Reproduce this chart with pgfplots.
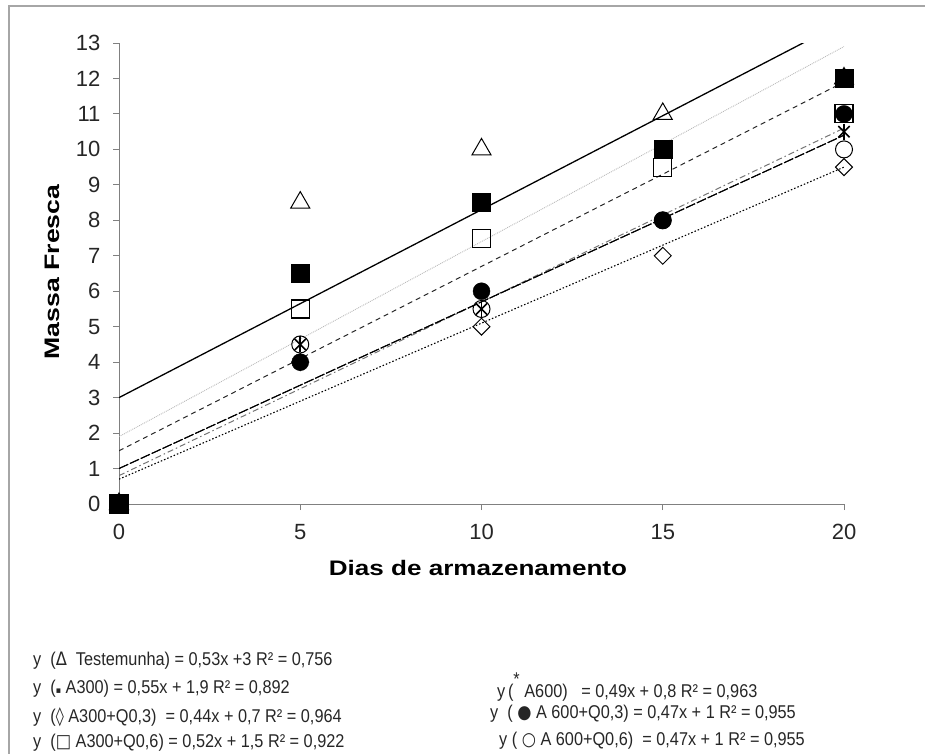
\documentclass[border=0pt]{standalone}
\usepackage{fontspec}
\setmainfont{Liberation Sans}
\newfontfamily\symf{DejaVu Sans}
\usepackage{pgfplots}
\pgfplotsset{compat=1.18}
\begin{document}
\begin{tikzpicture}[x=1pt,y=1pt]
\useasboundingbox (-119,-249) rectangle (806,504);
\draw[gray!70, line width=1.6pt] (-110,-260) -- (-110,498) -- (820,498);
\begin{axis}[at={(0,0)}, anchor=origin,
  x=36.25pt, y=35.46pt,
  xmin=0, xmax=20, ymin=0, ymax=13,
  axis x line=bottom, axis y line=left,
  axis line style={-, gray, line width=0.9pt},
  tick style={gray, line width=0.9pt},
  tick align=outside, major tick length=6pt,
  xtick={0,5,10,15,20}, ytick={0,1,...,13},
  ticklabel style={font=\fontsize{22}{25}\selectfont, text=black!85},
  xticklabel style={yshift=-11pt},
  yticklabel style={xshift=-9pt},
  /pgf/number format/assume math mode=true,
  clip mode=individual,
]
% trendlines
\addplot[black, line width=1.3pt] coordinates {(0,3) (20,13.6)};
\addplot[gray!55, line width=0.9pt, densely dotted] coordinates {(0,1.9) (20,12.9)};
\addplot[black!85, line width=1pt, dash pattern=on 5pt off 4pt] coordinates {(0,1.5) (20,11.9)};
\addplot[gray!90!black, line width=1pt, dash pattern=on 6pt off 3pt on 1.5pt off 3pt] coordinates {(0,0.8) (20,10.6)};
\addplot[black, line width=1pt, dash pattern=on 10pt off 2pt] coordinates {(0,1) (20,10.4)};
\addplot[black, line width=1pt, dash pattern=on 10pt off 2pt] coordinates {(0,1) (20,10.4)};
\addplot[black, line width=1.1pt, dash pattern=on 1.5pt off 2pt] coordinates {(0,0.7) (20,9.5)};
% data points
\addplot[only marks, mark=triangle, mark size=11pt, mark options={black, line width=1pt}] coordinates {(0,0) (5,8.5) (10,10) (15,11) (20,12)};
\addplot[only marks, mark=square, mark size=6pt, mark options={black, line width=1pt, rotate=45}] coordinates {(0,0) (5,4) (10,5) (15,7) (20,9.5)};
\addplot[only marks, mark=o, mark size=8.5pt, mark options={black, line width=1pt}] coordinates {(0,0) (5,4.5) (10,5.5) (15,8) (20,10)};
\addplot[only marks, mark=square, mark size=9pt, mark options={black, line width=1.1pt}] coordinates {(0,0) (5,5.5) (10,7.5) (15,9.5) (20,11)};
\addplot[only marks, mark=*, mark size=8.5pt, mark options={black, fill=black}] coordinates {(0,0) (5,4) (10,6) (15,8) (20,11)};
\addplot[only marks, mark=x, mark size=8pt, mark options={black, line width=1.6pt}] coordinates {(0,0) (5,4.5) (10,5.5) (15,8) (20,10.5)};
\addplot[only marks, mark=|, mark size=8pt, mark options={black, line width=1.6pt}] coordinates {(0,0) (5,4.5) (10,5.5) (15,8) (20,10.5)};
\addplot[only marks, mark=square*, mark size=9pt, mark options={black, fill=black}] coordinates {(0,0) (5,6.5) (10,8.5) (15,10) (20,12)};
\end{axis}
% axis titles
\node[rotate=90] at (52-119, 504-272) {\fontsize{21}{24}\selectfont\scalebox{1.27}[1]{\bfseries Massa Fresca}};
\node at (478-119, 504-568) {\fontsize{21}{24}\selectfont\scalebox{1.24}[1]{\bfseries Dias de armazenamento}};
% equations
\begin{scope}[every node/.style={anchor=west, inner sep=0pt, text=black!85, font=\fontsize{18.5}{21}\selectfont}]
\node at (33-119, 504-661) {\scalebox{0.88}[1]{y\ \ ({\symf Δ}\ \ Testemunha) = 0,53x +3 R² = 0,756}};
\node at (33-119, 504-689) {\scalebox{0.88}[1]{y\ \ ({\symf\small ▪} A300) = 0,55x + 1,9 R² = 0,892}};
\node at (33-119, 504-717) {\scalebox{0.88}[1]{y\ \ ({\symf ◊} A300+Q0,3)\ \ = 0,44x + 0,7 R² = 0,964}};
\node at (33-119, 504-743) {\scalebox{0.88}[1]{y\ \ ({\symf □} A300+Q0,6) = 0,52x + 1,5 R² = 0,922}};
\node at (497-119, 504-687) {\scalebox{0.88}[1]{y\,(\raisebox{1.3ex}{*} A600)\ \ \ = 0,49x + 0,8 R² = 0,963}};
\node at (490-119, 504-714) {\scalebox{0.88}[1]{y\ \ ( {\symf ●} A 600+Q0,3) = 0,47x + 1 R² = 0,955}};
\node at (499-119, 504-741) {\scalebox{0.88}[1]{y ( {\symf ○} A 600+Q0,6)\ \ = 0,47x + 1 R² = 0,955}};
\end{scope}
\end{tikzpicture}
\end{document}
